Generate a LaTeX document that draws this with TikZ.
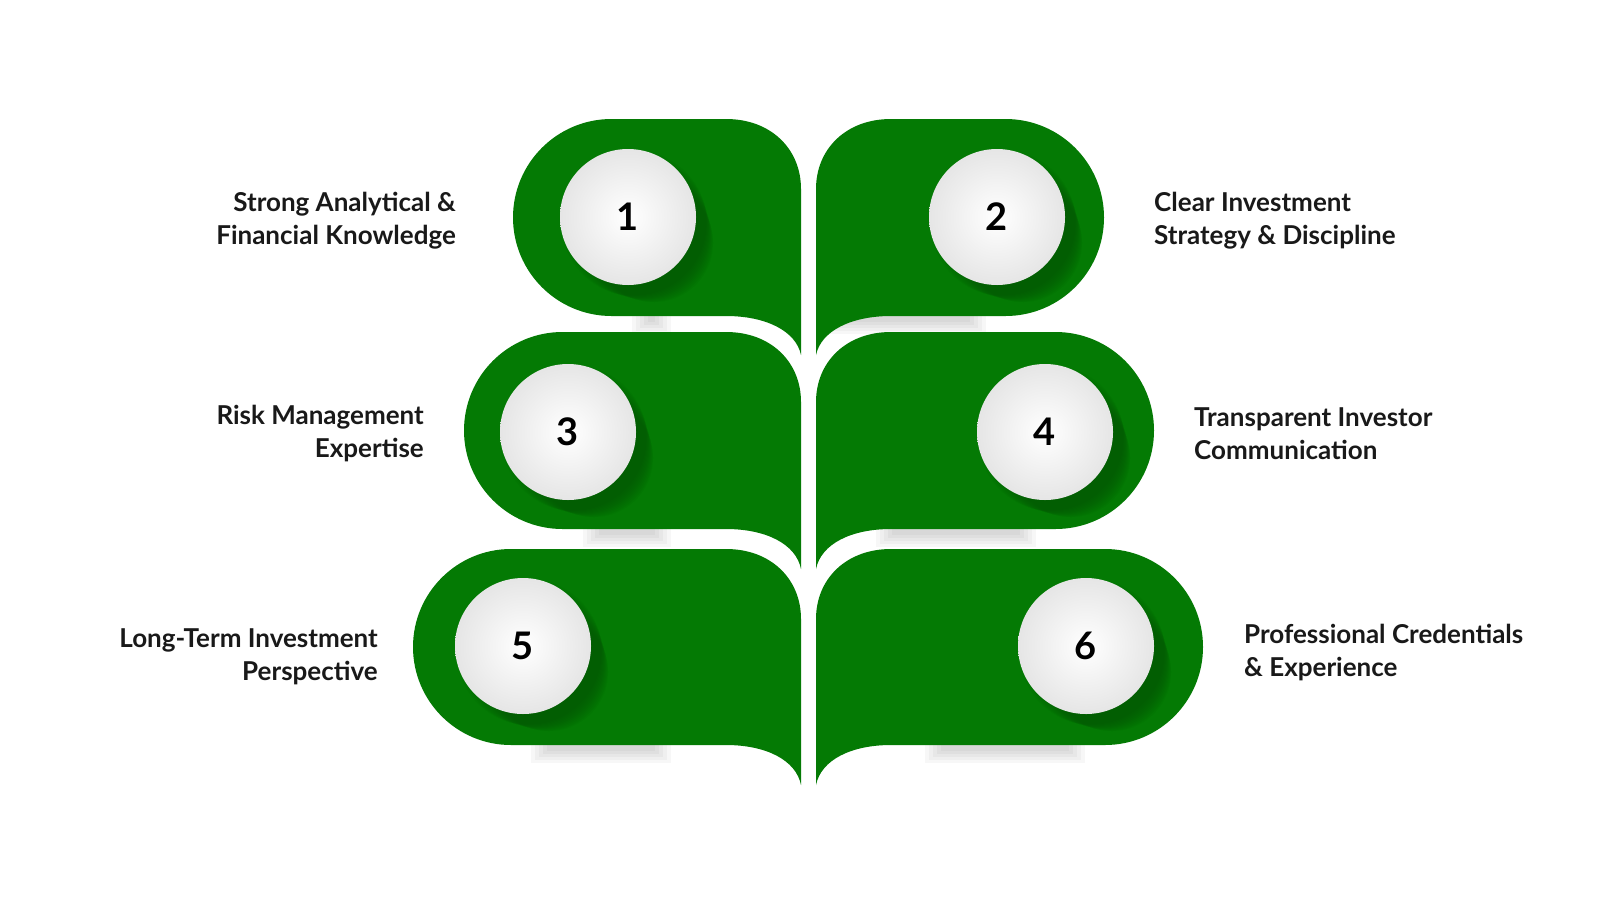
\documentclass[tikz,border=0pt]{standalone}
\usepackage{fontspec}
\setmainfont{Lato}
\definecolor{leafg}{HTML}{047A04}
\definecolor{darkg}{HTML}{024F02}
\tikzset{
  lbl/.style={font=\bfseries\fontsize{26}{33}\selectfont, text=black!90, inner sep=0pt},
  num/.style={circle, minimum size=136pt, inner sep=0pt, font=\bfseries\fontsize{38}{38}\selectfont, inner color=white, outer color=black!10},
}
\newcommand{\leafL}[5]{% L R T B Tail
  \pgfmathsetmacro{\rr}{(#4-#3)/2}
  \foreach \k in {1,...,5}{\fill[black, opacity=0.03] (#1+\rr+40-\k*4,#4) rectangle (#2-150+\k*4,#4+3+\k*3);}
  \fill[leafg] (#2,#5) -- (#2,#3+70) .. controls (#2,#3+30) and (#2-30,#3) .. (#2-75,#3) -- (#1+\rr,#3) arc[start angle=270,end angle=90,radius=\rr] -- (#2-75,#4) .. controls (#2-35,#4) and (#2-5,#4+15) .. (#2,#5) -- cycle;}
\newcommand{\leafR}[5]{% L R T B Tail (L is inner)
  \pgfmathsetmacro{\rr}{(#4-#3)/2}
  \foreach \k in {1,...,5}{\fill[black, opacity=0.03] (#2-\rr-40+\k*4,#4) rectangle (#2-\rr-160-\k*4,#4+3+\k*3);}
  \fill[leafg] (#1,#5) -- (#1,#3+70) .. controls (#1,#3+30) and (#1+30,#3) .. (#1+75,#3) -- (#2-\rr,#3) arc[start angle=270,end angle=450,radius=\rr] -- (#1+75,#4) .. controls (#1+35,#4) and (#1+5,#4+15) .. (#1,#5) -- cycle;}
\newcommand{\ballshadow}[2]{%
  \foreach \k in {1,...,10}{\fill[darkg, opacity=0.08] (#1+4+\k*2.2,#2+4+\k*2.2) circle[radius=74-\k*1.5];}}
\begin{document}
\begin{tikzpicture}[x=1pt,y=-1pt]
\useasboundingbox (0,0) rectangle (1600,900);
\fill[white] (0,0) rectangle (1600,900);
\leafL{513}{801}{119}{316}{355}
\leafR{816}{1104}{119}{316}{355}
\leafL{464}{801}{332}{529}{569}
\leafR{816}{1154}{332}{529}{569}
\leafL{413}{801}{549}{745}{785}
\leafR{816}{1203}{549}{745}{785}
\begin{scope}
\clip (413,100) rectangle (1210,790);
\ballshadow{628}{217}\ballshadow{997}{217}
\ballshadow{568}{432}\ballshadow{1045}{432}
\ballshadow{523}{646}\ballshadow{1086}{646}
\end{scope}
\node[num] (n1) at (628,217) {1};
\node[num] (n2) at (997,217) {2};
\node[num] (n3) at (568,432) {3};
\node[num] (n4) at (1045,432) {4};
\node[num] (n5) at (523,646) {5};
\node[num] (n6) at (1086,646) {6};
\node[lbl, anchor=east, align=right] (t1) at (456,221) {Strong Analytical \&\\Financial Knowledge};
\node[lbl, anchor=west, align=left] (t2) at (1154,221) {Clear Investment\\Strategy \& Discipline};
\node[lbl, anchor=east, align=right] (t3) at (424,434) {Risk Management\\Expertise};
\node[lbl, anchor=west, align=left] (t4) at (1194,434) {Transparent Investor\\Communication};
\node[lbl, anchor=east, align=right] (t5) at (378,657) {Long-Term Investment\\Perspective};
\node[lbl, anchor=west, align=left] (t6) at (1244,653) {Professional Credentials\\\& Experience};
\end{tikzpicture}
\end{document}
